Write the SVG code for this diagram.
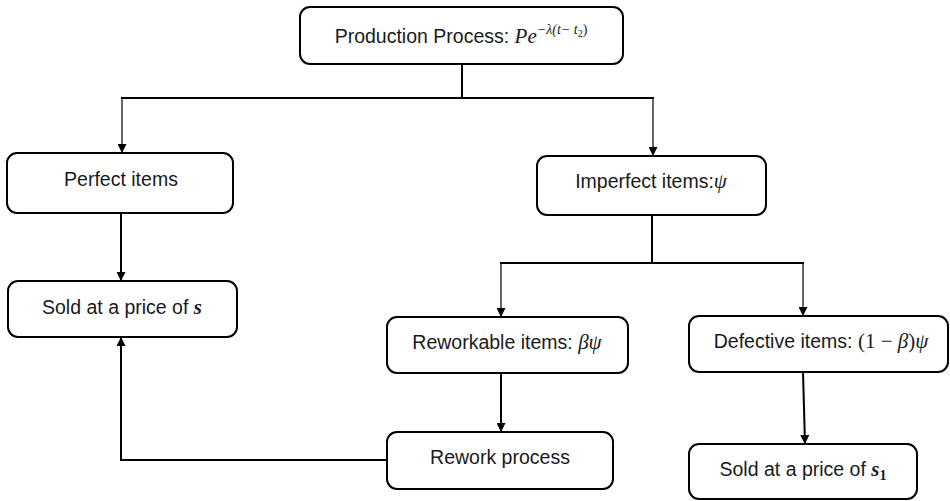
<svg xmlns="http://www.w3.org/2000/svg" width="950" height="501" viewBox="0 0 950 501">
<style>
.box{fill:#fff;stroke:#000;stroke-width:2}
.lbl{font-family:"Liberation Sans",Arial,sans-serif;font-size:19.5px;fill:#1a1a1a;text-anchor:middle}
.m{font-family:"Liberation Serif","Times New Roman",serif;font-style:italic;font-size:21px}
.u{font-family:"Liberation Serif","Times New Roman",serif;font-style:normal;font-size:21px}
.sup{font-size:14px}
.sub{font-size:10px}
.b{font-weight:bold}
.thick{fill:none;stroke:#000;stroke-width:2}
.thin{fill:none;stroke:#000;stroke-width:1.2}
</style>
<defs>
<marker id="ah" viewBox="0 0 10 10" refX="10" refY="5" markerWidth="9" markerHeight="9" markerUnits="userSpaceOnUse" orient="auto">
<path d="M0,0 L10,5 L0,10 Z" fill="#000"/>
</marker>
</defs>
<rect width="950" height="501" fill="#fff"/>
<g id="connectors">
<line class="thick" x1="462" y1="64" x2="462" y2="98"/>
<line class="thick" x1="121" y1="98" x2="654" y2="98"/>
<line class="thin" x1="122" y1="98" x2="122" y2="153" marker-end="url(#ah)"/>
<line class="thin" x1="653" y1="98" x2="653" y2="156" marker-end="url(#ah)"/>
<line class="thick" x1="121" y1="213" x2="121" y2="281" marker-end="url(#ah)"/>
<line class="thick" x1="652" y1="215" x2="652" y2="263"/>
<line class="thick" x1="500" y1="263" x2="804" y2="263"/>
<line class="thin" x1="501" y1="263" x2="501" y2="317" marker-end="url(#ah)"/>
<line class="thin" x1="803" y1="263" x2="803" y2="316" marker-end="url(#ah)"/>
<line class="thick" x1="501" y1="373" x2="501" y2="432" marker-end="url(#ah)"/>
<line class="thick" x1="803" y1="372" x2="805" y2="444" marker-end="url(#ah)"/>
<polyline class="thick" points="387,460 121,460 121,337" marker-end="url(#ah)"/>
</g>
<g id="production">
<rect class="box" x="300" y="7" width="323" height="57" rx="10"/>
<text class="lbl" x="461" y="43">Production Process: <tspan class="m">Pe</tspan><tspan class="m sup" dy="-9">−λ(t− t</tspan><tspan class="u sub" dy="3">2</tspan><tspan class="u sup" dy="-3">)</tspan></text>
</g>
<g id="perfect">
<rect class="box" x="7" y="153" width="226" height="60" rx="10"/>
<text class="lbl" x="121" y="186">Perfect items</text>
</g>
<g id="sold-s">
<rect class="box" x="8" y="281" width="229" height="56" rx="10"/>
<text class="lbl" x="122" y="314">Sold at a price of <tspan class="m b">s</tspan></text>
</g>
<g id="imperfect">
<rect class="box" x="537" y="156" width="229" height="59" rx="10"/>
<text class="lbl" x="651" y="188">Imperfect items:<tspan class="m">ψ</tspan></text>
</g>
<g id="reworkable">
<rect class="box" x="387" y="317" width="241" height="56" rx="10"/>
<text class="lbl" x="507" y="349">Reworkable items: <tspan class="m">βψ</tspan></text>
</g>
<g id="defective">
<rect class="box" x="689" y="316" width="259" height="56" rx="10"/>
<text class="lbl" x="821" y="348">Defective items: <tspan class="u">(1 − </tspan><tspan class="m">β</tspan><tspan class="u">)</tspan><tspan class="m">ψ</tspan></text>
</g>
<g id="rework">
<rect class="box" x="387" y="432" width="226" height="57" rx="10"/>
<text class="lbl" x="500" y="464">Rework process</text>
</g>
<g id="sold-s1">
<rect class="box" x="689" y="444" width="228" height="55" rx="10"/>
<text class="lbl" x="803" y="476">Sold at a price of <tspan class="m b">s</tspan><tspan class="u b sup" dy="4">1</tspan></text>
</g>
</svg>
